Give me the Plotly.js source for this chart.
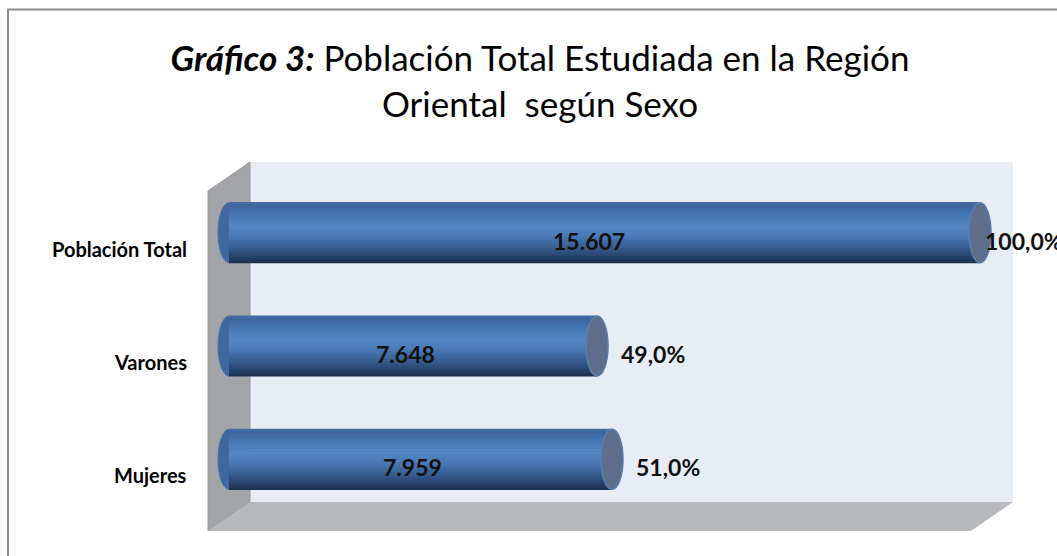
<!DOCTYPE html>
<html>
<head>
<meta charset="utf-8">
<script src="https://cdn.plot.ly/plotly-3.0.1.min.js"></script>
<style>html,body{margin:0;padding:0;background:#fff;}#chart{width:1057px;height:556px;}</style>
</head>
<body>
<div id="chart"></div>
<script>
// ---- data ----
const categories = ['Población Total', 'Varones', 'Mujeres'];
const values = [15607, 7648, 7959];
const total = 15607;

// ---- formatting helpers ----
function fmtThousands(v) { return String(v).replace(/\B(?=(\d{3})+(?!\d))/g, '.'); }
function fmtPct(v) { return (v / total * 100).toFixed(1).replace('.', ',') + '%'; }

// ---- geometry (pixel layout) ----
const FW = 1057, FH = 556;
const M = {l: 215, r: 65, t: 176, b: 40};
const PW = FW - M.l - M.r, PH = FH - M.t - M.b;
const px = p => (p - M.l) / PW;
const py = p => 1 - (p - M.t) / PH;
const XR = [-291, 15856];
const pxPerUnit = PW / (XR[1] - XR[0]);
const BW = 0.54; // bar thickness in category units

function poly(pts) {
  return pts.map((p, i) => (i ? 'L' : 'M') + px(p[0]).toFixed(5) + ',' + py(p[1]).toFixed(5)).join(' ') + ' Z';
}

// gradient stops across the cylinder (top -> bottom)
const stops = [
  [0.00, [74, 112, 166]],
  [0.05, [60, 101, 157]],
  [0.20, [70, 118, 178]],
  [0.40, [85, 135, 196]],
  [0.55, [74, 122, 183]],
  [0.70, [59, 100, 153]],
  [0.85, [43, 75, 119]],
  [1.00, [27, 46, 76]]
];
function colAt(t) {
  for (let i = 1; i < stops.length; i++) {
    if (t <= stops[i][0]) {
      const a = stops[i - 1], b = stops[i];
      const f = (t - a[0]) / (b[0] - a[0]);
      const c = a[1].map((v, k) => Math.round(v + (b[1][k] - v) * f));
      return 'rgb(' + c.join(',') + ')';
    }
  }
  return 'rgb(' + stops[stops.length - 1][1].join(',') + ')';
}

const N = 24;
const traces = [];
for (let i = 0; i < N; i++) {
  const t0 = i / N, t1 = (i + 1) / N;
  const w = Math.min(1 - t0, (t1 - t0) + 0.012) * BW;
  traces.push({
    type: 'bar', orientation: 'h',
    x: values, y: categories,
    base: 0,
    offset: -BW / 2 + t0 * BW,
    width: w,
    marker: {color: colAt((t0 + t1) / 2), line: {width: 0}},
    hoverinfo: 'skip', showlegend: false
  });
}

const rx = 11 / pxPerUnit;
const shapes = [
  // outer frame (top + left)
  {type: 'path', xref: 'paper', yref: 'paper', path: 'M' + px(8) + ',' + py(FH + 2) + ' L' + px(8) + ',' + py(9.5) + ' L' + px(FW + 2) + ',' + py(9.5),
   line: {color: '#8C8C8C', width: 2}, layer: 'below'},
  // back wall
  {type: 'path', xref: 'paper', yref: 'paper', path: poly([[250, 162], [1013, 162], [1013, 502], [250, 502]]),
   fillcolor: '#E8ECF5', line: {width: 0}, layer: 'below'},
  // left wall
  {type: 'path', xref: 'paper', yref: 'paper', path: poly([[208, 191], [250, 162], [250, 502], [208, 531]]),
   fillcolor: '#A3A4A7', line: {color: '#9A9A9C', width: 1}, layer: 'below'},
  // floor
  {type: 'path', xref: 'paper', yref: 'paper', path: poly([[208, 531], [250, 502], [1013, 502], [971, 531]]),
   fillcolor: '#B7B9BD', line: {width: 0}, layer: 'below'}
];
// left rounded ends (below bars) and right end caps (above bars)
values.forEach((v, i) => {
  shapes.push({type: 'circle', xref: 'x', yref: 'y', x0: -rx, x1: rx, y0: i - BW / 2 + 0.005, y1: i + BW / 2 - 0.005,
    fillcolor: '#3F68A0', line: {color: '#4A72A8', width: 1}, layer: 'below'});
  shapes.push({type: 'circle', xref: 'x', yref: 'y', x0: v - rx, x1: v + rx, y0: i - BW / 2 + 0.005, y1: i + BW / 2 - 0.005,
    fillcolor: '#5E6D89', line: {color: '#5A7DB0', width: 1.5}, layer: 'above'});
});

const FONT = 'Lato, "Open Sans", sans-serif';
const annotations = [];
const pctMaxX = (983 - 229) / pxPerUnit;
values.forEach((v, i) => {
  annotations.push({xref: 'paper', yref: 'y', x: px(189), y: categories[i], xanchor: 'right', yanchor: 'middle', yshift: -16,
    text: '<b>' + categories[i] + '</b>', showarrow: false, font: {family: FONT, size: 20, color: '#000'}});
  annotations.push({xref: 'x', yref: 'y', x: v * 0.48, y: categories[i], xanchor: 'center', yanchor: 'middle', yshift: -8,
    text: '<b>' + fmtThousands(v) + '</b>', showarrow: false, font: {family: FONT, size: 23, color: '#111'}});
  annotations.push({xref: 'x', yref: 'y', x: Math.min(v + 22 / pxPerUnit, pctMaxX), y: categories[i], xanchor: 'left', yanchor: 'middle', yshift: -8,
    text: '<b>' + fmtPct(v) + '</b>', showarrow: false, font: {family: FONT, size: 23, color: '#111'}});
});

const layout = {
  width: FW, height: FH,
  margin: M,
  paper_bgcolor: '#ffffff', plot_bgcolor: 'rgba(0,0,0,0)',
  barmode: 'overlay',
  title: {
    text: '<b><i>Gráfico 3:</i></b> Población Total Estudiada en la Región<br>Oriental  según Sexo',
    x: 540 / FW, xref: 'container', xanchor: 'center',
    y: 1 - 71 / FH, yref: 'container', yanchor: 'middle',
    font: {family: FONT, size: 35, color: '#000'}
  },
  xaxis: {range: XR, showgrid: false, zeroline: false, showticklabels: false, ticks: '', fixedrange: true},
  yaxis: {type: 'category', categoryorder: 'array', categoryarray: categories, autorange: 'reversed',
    range: [2.5, -0.5], showgrid: false, zeroline: false, showticklabels: false, ticks: '', fixedrange: true},
  shapes: shapes,
  annotations: annotations,
  showlegend: false
};

Plotly.newPlot('chart', traces, layout, {displayModeBar: false, staticPlot: true});
</script>
</body>
</html>
